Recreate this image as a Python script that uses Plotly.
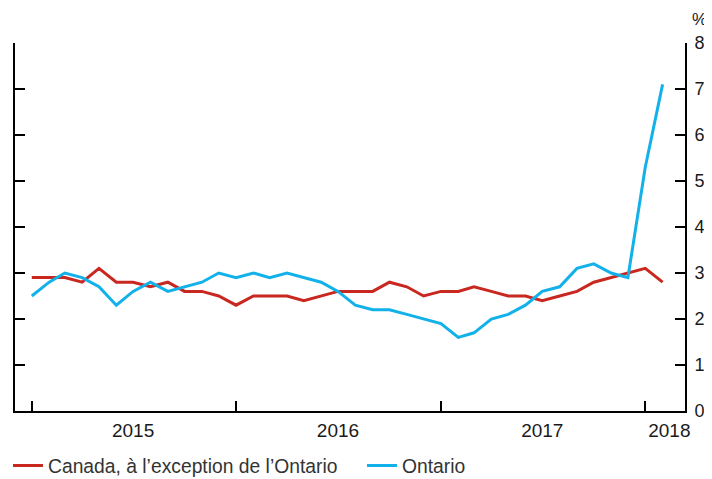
import plotly.graph_objects as go

# Monthly data, January 2015 to February 2018
months = [f"{y}-{m:02d}-01" for y in range(2015, 2019) for m in range(1, 13)][:38]

canada = [2.9, 2.9, 2.9, 2.8, 3.1, 2.8, 2.8, 2.7, 2.8, 2.6,
          2.6, 2.5, 2.3, 2.5, 2.5, 2.5, 2.4, 2.5, 2.6,
          2.6, 2.6, 2.8, 2.7, 2.5, 2.6, 2.6, 2.7, 2.6, 2.5,
          2.5, 2.4, 2.5, 2.6, 2.8, 2.9, 3.0, 3.1, 2.8]

ontario = [2.5, 2.8, 3.0, 2.9, 2.7, 2.3, 2.6, 2.8, 2.6, 2.7,
           2.8, 3.0, 2.9, 3.0, 2.9, 3.0, 2.9, 2.8, 2.6,
           2.3, 2.2, 2.2, 2.1, 2.0, 1.9, 1.6, 1.7, 2.0, 2.1,
           2.3, 2.6, 2.7, 3.1, 3.2, 3.0, 2.9, 5.3, 7.1]

series_names = ["Canada, à l’exception de l’Ontario", "Ontario"]
year_ticks = ["2015-01-01", "2016-01-01", "2017-01-01", "2018-01-01"]
year_labels = ["2015", "2016", "2017", "2018"]
year_label_pos = ["2015-07-01", "2016-07-01", "2017-07-01", "2018-02-13"]
y_ticks = [0, 1, 2, 3, 4, 5, 6, 7, 8]

RED = "#C8281F"
BLUE = "#12B1E9"
FONT = "Liberation Sans, Arial, sans-serif"
TXT = "#1a1a1a"
x_range = ["2014-12-02", "2018-03-13"]

fig = go.Figure()
fig.add_trace(go.Scatter(x=months, y=canada, mode="lines", name=series_names[0],
                         line=dict(color=RED, width=3), legend="legend"))
fig.add_trace(go.Scatter(x=months, y=ontario, mode="lines", name=series_names[1],
                         line=dict(color=BLUE, width=3), legend="legend2"))

legend_common = dict(orientation="h", xref="container", yref="container",
                     y=0.0276, xanchor="left", yanchor="middle",
                     font=dict(size=19.3, color="#333333"), itemwidth=30,
                     bgcolor="rgba(0,0,0,0)")

# page has an 8px body margin, so the figure is sized to fit the 712x479 window
fig.update_layout(
    width=704, height=471,
    margin=dict(l=7, r=27, t=35, b=68, autoexpand=False),
    plot_bgcolor="white", paper_bgcolor="white",
    font=dict(family=FONT, size=19, color=TXT),
    showlegend=True,
    legend=dict(x=0.0, **legend_common),
    legend2=dict(x=0.5028, **legend_common),
    xaxis=dict(type="date", range=x_range, tickvals=year_ticks,
               showticklabels=False, ticks="inside", ticklen=10, tickwidth=1.5,
               tickcolor="black", showline=True, linecolor="black", linewidth=2,
               showgrid=False, zeroline=False, automargin=False),
    xaxis2=dict(type="date", range=x_range, overlaying="x", anchor="y", side="bottom",
                tickvals=year_label_pos, ticktext=year_labels, ticks="",
                showline=False, showgrid=False, zeroline=False, automargin=False,
                ticklabelstandoff=6,
                tickfont=dict(size=19, color=TXT)),
    yaxis=dict(range=[0, 8], tickvals=y_ticks, side="right", mirror="ticks",
               ticks="inside", ticklen=10, tickwidth=1.5, tickcolor="black",
               showline=True, linecolor="black", linewidth=2,
               showgrid=False, zeroline=False, automargin=False,
               ticklabelstandoff=4,
               tickfont=dict(size=18, color=TXT)),
    annotations=[dict(text="%", xref="paper", yref="paper", x=1.0, y=1.0,
                      xanchor="left", yanchor="middle", xshift=6, yshift=24,
                      borderpad=0, showarrow=False,
                      font=dict(size=17, color=TXT))],
)
# invisible trace on xaxis2 so the year-label axis is drawn
fig.add_trace(go.Scatter(x=[x_range[0]], y=[None], xaxis="x2", showlegend=False,
                         hoverinfo="skip"))

fig.write_html("out.html")
